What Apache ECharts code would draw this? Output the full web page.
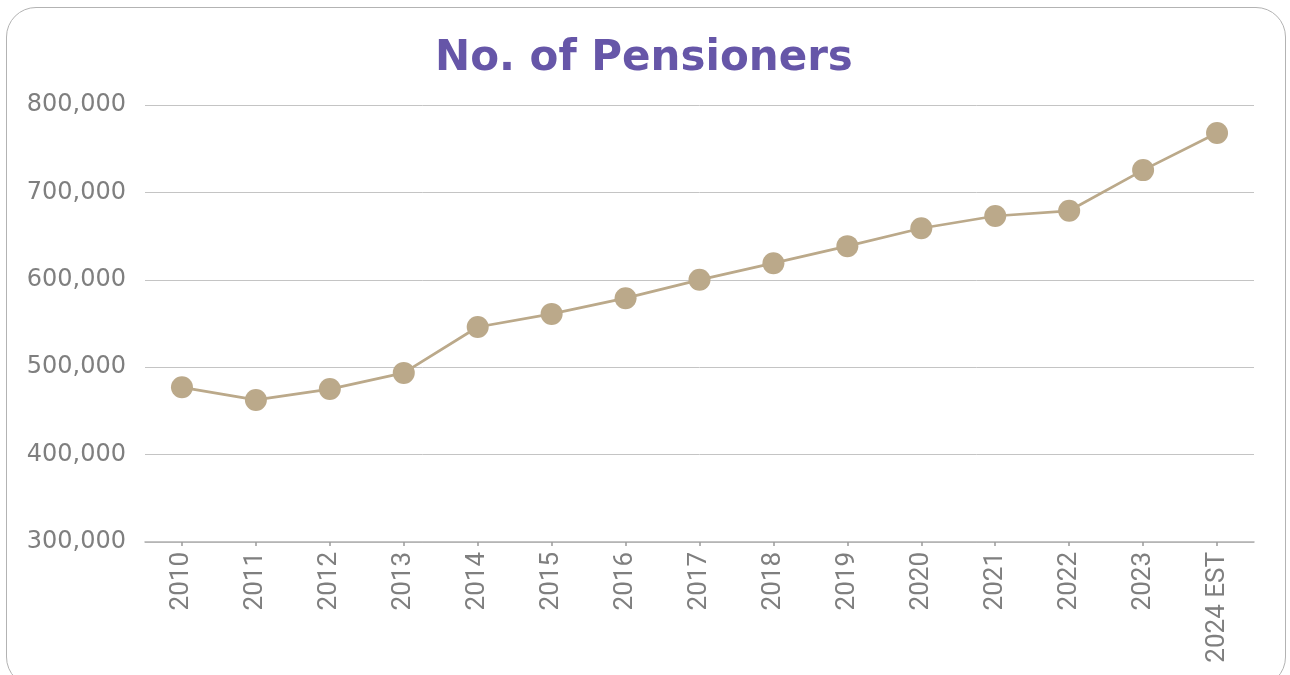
<!DOCTYPE html>
<html>
<head>
<meta charset="utf-8">
<script src="https://cdn.jsdelivr.net/npm/echarts@6/dist/echarts.min.js"></script>
<style>
  html, body { margin: 0; padding: 0; background: #fff; }
  #box { position: relative; width: 1290px; height: 675px; overflow: hidden; }
  #frame {
    position: absolute; left: 6px; top: 7px; width: 1280px; height: 680px;
    border: 1.5px solid #b3b3b3; border-radius: 30px; box-sizing: border-box;
  }
  #main { position: absolute; left: 0; top: 0; width: 1290px; height: 675px; }
</style>
</head>
<body>
<div id="box">
  <div id="frame"></div>
  <div id="main"></div>
</div>
<script>
const years = ['2010', '2011', '2012', '2013', '2014', '2015', '2016', '2017',
  '2018', '2019', '2020', '2021', '2022', '2023', '2024 EST']
const pensioners = [477000, 462500, 475000, 493500, 546000, 561000, 579000, 600000,
  619000, 638500, 659000, 673000, 679000, 725500, 768000]
const yTicks = [300000, 400000, 500000, 600000, 700000, 800000]

const chart = echarts.init(document.getElementById('main'))
const option = {
  animation: false,
  title: {
    text: 'No. of Pensioners',
    left: 430,
    top: 33,
    textStyle: { fontSize: 42, fontWeight: 'bold', color: '#6656a8', fontFamily: 'DejaVu Sans' },
  },
  grid: { left: 145, right: 36, top: 105, bottom: 133 },
  xAxis: {
    type: 'category',
    data: years,
    boundaryGap: true,
    axisLine: { show: true, lineStyle: { color: '#b0b0b0', width: 1.5 } },
    axisTick: { show: true, alignWithLabel: true, length: 4, lineStyle: { color: '#9a9a9a', width: 1.5 } },
    axisLabel: {
      rotate: 90,
      margin: 10,
      color: '#7f7f7f',
      fontSize: 26,
      fontFamily: 'Roboto',
    },
  },
  yAxis: {
    type: 'value',
    min: yTicks[0],
    max: yTicks[yTicks.length - 1],
    interval: 100000,
    axisLine: { show: false },
    axisTick: { show: false },
    axisLabel: {
      margin: 19,
      padding: [5, 0, 0, 0],
      color: '#7f7f7f',
      fontSize: 24,
      fontFamily: 'DejaVu Sans',
      formatter: (v) => v.toLocaleString('en-US'),
    },
    splitLine: { show: true, lineStyle: { color: '#c4c4c4', width: 1 } },
  },
  series: [
    {
      name: 'No. of Pensioners',
      type: 'line',
      data: pensioners,
      symbol: 'circle',
      symbolSize: 22,
      lineStyle: { color: '#bba98a', width: 2.75 },
      itemStyle: { color: '#bba98a' },
    },
  ],
}
chart.setOption(option)
</script>
</body>
</html>
